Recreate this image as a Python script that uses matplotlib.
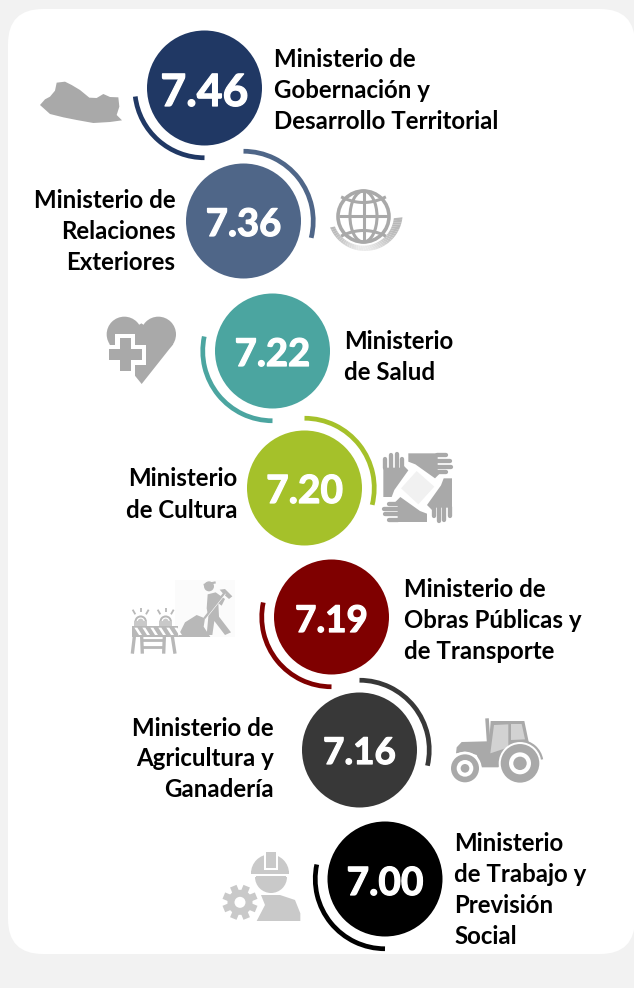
#
# Ranking of ministries, circles with the score and a small grey icon next to each one
#

import numpy as np
from matplotlib import patheffects
from matplotlib import pyplot as plt
from matplotlib.patches import Arc, Circle, Ellipse, FancyBboxPatch, Polygon, Rectangle, Wedge

# Data
scores = ["7.46", "7.36", "7.22", "7.20", "7.19", "7.16", "7.00"]
ministries = [
	["Ministerio de", "Gobernación y", "Desarrollo Territorial"],
	["Ministerio de", "Relaciones", "Exteriores"],
	["Ministerio", "de Salud"],
	["Ministerio", "de Cultura"],
	["Ministerio de", "Obras Públicas y", "de Transporte"],
	["Ministerio de", "Agricultura y", "Ganadería"],
	["Ministerio", "de Trabajo y", "Previsión", "Social"],
]

# Layout in pixels
centers = [(204.5, 88), (243.5, 221), (272.5, 351), (304.5, 488), (331.5, 617), (359.5, 750), (385, 879)]
colors = ["#203864", "#4f6688", "#4ba5a0", "#a5c12a", "#7f0000", "#383838", "#000000"]
arc_ranges = [(90, 173), (-90, 14), (90, 192), (-90, 14), (90, 192), (-90, 13), (90, 192)]
label_x = [273.5, 175.5, 344, 237.5, 404, 273.5, 454.5]
label_align = ["left", "right", "left", "right", "left", "right", "left"]
label_y = [
	[67, 98, 129],
	[208, 239, 270],
	[349, 380],
	[486, 518],
	[597, 628, 659],
	[736, 766, 797],
	[851, 882, 913, 944],
]
score_size = [32, 27.5, 27.5, 28, 26.5, 26.5, 28]
score_base = [18, 15, 15, 15, 15, 14, 16]

GREY = "#a9a9a9"
STONE = "#b8b8b8"
LIGHT = "#c9c9c9"

fig = plt.figure(figsize=(6.34, 9.88), dpi=100, facecolor="#f2f2f2")
ax = fig.add_axes([0, 0, 1, 1])
ax.set_xlim(0, 634)
ax.set_ylim(988, 0)
ax.axis("off")

# White card
ax.add_patch(FancyBboxPatch((8 + 35, 9 + 35), 627 - 70, 945 - 70, boxstyle="round,pad=35,rounding_size=35",
	facecolor="white", edgecolor="none", zorder=0))


def poly(points, color=GREY, z=2):
	ax.add_patch(Polygon(points, closed=True, facecolor=color, edgecolor="none", zorder=z))


def bar(x0, y0, x1, y1, width, color=GREY, z=3, cap="round"):
	ax.plot([x0, x1], [y0, y1], color=color, lw=width, solid_capstyle=cap, zorder=z)


def zoomed(points, ox, oy):
	return [(ox + p[0] / 3, oy + p[1] / 3) for p in points]


def zbar(p0, p1, ox, oy, width, color=GREY, z=3, cap="butt"):
	a, b = zoomed([p0, p1], ox, oy)
	bar(a[0], a[1], b[0], b[1], width, color, z, cap)


def zcircle(p, r, ox, oy, color=GREY, z=3):
	ax.add_patch(Circle(zoomed([p], ox, oy)[0], r / 3, facecolor=color, edgecolor="none", zorder=z))


# Map of El Salvador
poly(zoomed([(120, 315), (135, 298), (150, 290), (165, 272), (170, 248), (195, 245), (215, 255), (240, 270),
	(268, 293), (290, 294), (310, 282), (330, 291), (355, 292), (358, 320), (350, 345), (366, 361), (330, 366),
	(280, 369), (230, 360), (190, 352), (150, 342)], 0, 0))

# Globe with a swoosh under it
gx, gy = 363.5, 216.5
angles = np.linspace(158, 6, 40)
for a0, a1 in zip(angles[:-1], angles[1:]):
	quad = []
	for a, r, c in ((a0, 113, (195, 130)), (a1, 113, (195, 130)), (a1, 92, (190, 135)), (a0, 92, (190, 135))):
		t = np.deg2rad(a)
		quad.append((c[0] + r * np.cos(t), c[1] + r * np.sin(t)))
	shade = 0.72 + 0.2 * np.sin(np.deg2rad((a0 + a1) / 2)) ** 4
	poly(zoomed(quad, 300, 170), str(shade))
ax.add_patch(Circle((gx, gy), 27, facecolor="white", edgecolor="none", zorder=2))
ax.add_patch(Circle((gx, gy), 25.5, fill=False, edgecolor=GREY, lw=2.6, zorder=3))
ax.add_patch(Ellipse((gx, gy), 27, 51, fill=False, edgecolor=GREY, lw=2.2, zorder=3))
bar(gx, gy - 25, gx, gy + 25, 2.2, cap="butt")
bar(gx - 25, gy, gx + 25, gy, 2.2, cap="butt")
for sign in (-1, 1):
	t = np.linspace(-1, 1, 30)
	ax.plot(gx + 21 * t, gy + sign * (14 + 5 * t ** 2), color=GREY, lw=2.2, zorder=3)

# Heart with a cross
ox, oy = 100, 290
zcircle((73, 133), 53, ox, oy, GREY, 2)
zcircle((175, 133), 53, ox, oy, GREY, 2)
poly(zoomed([(28, 162), (125, 282), (220, 162), (124, 100)], ox, oy))
cx, cy = 100 + 75 / 3, 290 + 194 / 3
ax.add_patch(Rectangle((cx - 21, cy - 10), 42, 20, facecolor="white", edgecolor="none", zorder=3))
ax.add_patch(Rectangle((cx - 10, cy - 21), 20, 42, facecolor="white", edgecolor="none", zorder=3))
ax.add_patch(Rectangle((cx - 16.5, cy - 5.5), 33, 11, facecolor=GREY, edgecolor="none", zorder=4))
ax.add_patch(Rectangle((cx - 5.5, cy - 16.5), 11, 33, facecolor=GREY, edgecolor="none", zorder=4))

# Four hands around a light square, the crop starts at 375,445 and 128,128 is the middle
hc = np.array(zoomed([(128, 128)], 375, 445)[0])
poly(zoomed([(125, 78), (178, 125), (130, 178), (78, 130)], 375, 445), "#f1f1f1", 2)
palm = [(25, 68), (82, 68), (84, 60), (100, 76), (58, 135), (50, 156), (25, 156)]
fingers = [((31, 70), (31, 42)), ((48, 70), (48, 30)), ((65, 70), (65, 27)), ((80, 70), (80, 42))]
for quarter in range(4):
	a = np.pi / 2 * quarter
	rot = np.array([[np.cos(a), -np.sin(a)], [np.sin(a), np.cos(a)]])

	def place(p):
		return hc + rot @ (np.array(p, dtype=float) - 128) / 3

	poly([place(p) for p in palm])
	for f0, f1 in fingers:
		p0, p1 = place(f0), place(f1)
		bar(p0[0], p0[1], p1[0], p1[1], 3.1, GREY, 2)

# Road works, barrier and man with a shovel
ox, oy = 125, 575
ax.add_patch(Rectangle(*zoomed([(150, 15)], ox, oy), 60, 57, facecolor="#fbfbfb", edgecolor="none", zorder=1))
for lx in (47, 122):
	ax.add_patch(Wedge(zoomed([(lx, 140)], ox, oy)[0], 6.2, 180, 360, width=2, facecolor=STONE, edgecolor="none", zorder=2))
	zcircle((lx, 140), 9, ox, oy, LIGHT, 2)
	poly(zoomed([(lx - 19, 138), (lx + 19, 138), (lx + 19, 152), (lx - 19, 152)], ox, oy), LIGHT)
	for dx0, dy0, dx1, dy1 in ((-16, 118, -24, 104), (0, 112, 0, 98), (16, 118, 24, 104)):
		zbar((lx + dx0, dy0), (lx + dx1, dy1), ox, oy, 1.3, STONE, 2)
for lx0, lx1 in ((28, 22), (50, 52), (118, 116), (142, 150)):
	zbar((lx0, 185), (lx1, 236), ox, oy, 2.4, STONE, 2)
zbar((50, 196), (118, 196), ox, oy, 2, STONE, 2)
zbar((50, 216), (118, 216), ox, oy, 2, STONE, 2)
poly(zoomed([(20, 152), (160, 152), (160, 186), (20, 186)], ox, oy), STONE, 3)
for sx in range(28, 150, 24):
	poly(zoomed([(sx, 158), (sx + 9, 158), (sx + 23, 180), (sx + 14, 180)], ox, oy), "white", 4)
poly(zoomed([(158, 186), (180, 142), (215, 120), (240, 130), (236, 155), (256, 186)], ox, oy), STONE)
zcircle((252, 34), 15, ox, oy, STONE)
zbar((236, 30), (272, 22), ox, oy, 1.6, STONE)
poly(zoomed([(248, 58), (272, 52), (300, 72), (290, 92), (280, 85), (282, 125), (318, 172), (300, 180), (268, 138),
	(262, 180), (245, 180), (250, 125), (245, 100)], ox, oy), STONE)
zbar((300, 55), (240, 130), ox, oy, 1.6, "white", 4)
zbar((300, 52), (238, 130), ox, oy, 1.6, STONE, 4)
poly(zoomed([(284, 44), (300, 42), (322, 64), (312, 72), (296, 58)], ox, oy), STONE)

# Tractor
ox, oy = 445, 710
poly(zoomed([(137, 33), (238, 33), (252, 100), (130, 125)], ox, oy))
poly(zoomed([(147, 45), (190, 43), (190, 112), (136, 130)], ox, oy), "#d2d2d2", 3)
poly(zoomed([(198, 42), (230, 42), (240, 88), (198, 90)], ox, oy), "#d2d2d2", 3)
zbar((126, 25), (131, 98), ox, oy, 2.6)
poly(zoomed([(35, 112), (50, 96), (125, 94), (190, 120), (160, 172), (110, 172), (95, 135), (60, 125), (33, 130)], ox, oy))
rear = zoomed([(225, 160)], ox, oy)[0]
ax.add_patch(Wedge(rear, 23.5, 195, 350, facecolor=GREY, edgecolor="none", zorder=2))
ax.add_patch(Circle(rear, 21.3, facecolor="white", edgecolor="none", zorder=3))
ax.add_patch(Circle(rear, 19.3, facecolor=GREY, edgecolor="none", zorder=4))
ax.add_patch(Circle(rear, 11, facecolor="white", edgecolor="none", zorder=5))
ax.add_patch(Circle(rear, 6.7, facecolor=GREY, edgecolor="none", zorder=6))
zcircle((60, 175), 50, ox, oy, "white", 3)
zcircle((60, 175), 42, ox, oy, GREY, 4)
zcircle((60, 175), 25, ox, oy, "white", 5)
zcircle((60, 175), 13, ox, oy, GREY, 6)

# Worker with a helmet and a gear
ox, oy = 215, 845
ax.add_patch(Wedge(zoomed([(165, 85)], ox, oy)[0], 19, 180, 360, facecolor=LIGHT, edgecolor="none", zorder=2))
poly(zoomed([(108, 78), (222, 78), (222, 88), (108, 88)], ox, oy), LIGHT, 2)
poly(zoomed([(146, 22), (190, 22), (190, 74), (146, 74)], ox, oy), "white", 3)
poly(zoomed([(153, 22), (183, 22), (183, 68), (153, 68)], ox, oy), LIGHT, 4)
ax.add_patch(Wedge(zoomed([(168, 96)], ox, oy)[0], 16, 0, 180, facecolor=LIGHT, edgecolor="none", zorder=2))
poly(zoomed([(122, 92), (214, 92), (214, 100), (122, 100)], ox, oy), LIGHT, 2)
poly(zoomed([(138, 150), (195, 150), (240, 165), (256, 205), (256, 228), (125, 228), (150, 180)], ox, oy), LIGHT)
gear = zoomed([(75, 172)], ox, oy)[0]
for t in np.deg2rad(np.arange(0, 360, 45) + 22.5):
	bar(gear[0] + 9 * np.cos(t), gear[1] + 9 * np.sin(t), gear[0] + 19.5 * np.cos(t), gear[1] + 19.5 * np.sin(t), 7, "white", 3, "butt")
	bar(gear[0] + 9 * np.cos(t), gear[1] + 9 * np.sin(t), gear[0] + 17.5 * np.cos(t), gear[1] + 17.5 * np.sin(t), 5, LIGHT, 4, "butt")
ax.add_patch(Circle(gear, 14.5, facecolor="white", edgecolor="none", zorder=3))
ax.add_patch(Circle(gear, 12.5, facecolor=LIGHT, edgecolor="none", zorder=4))
ax.add_patch(Circle(gear, 5.5, facecolor="white", edgecolor="none", zorder=5))

# Circles, arcs, scores and names
for i, score in enumerate(scores):
	x, y = centers[i]
	ax.add_patch(Circle((x, y), 57.5, facecolor=colors[i], edgecolor="none", zorder=6))
	ax.add_patch(Arc((x, y), 139.5, 139.5, theta1=arc_ranges[i][0], theta2=arc_ranges[i][1],
		edgecolor=colors[i], lw=3.4, zorder=6))
	ax.text(x, y + score_base[i], score, color="white", fontsize=score_size[i], fontfamily="Lato", fontweight="bold",
		ha="center", va="baseline", zorder=7,
		path_effects=[patheffects.withStroke(linewidth=0.9, foreground="white")])
	for line, line_y in zip(ministries[i], label_y[i]):
		ax.text(label_x[i], line_y, line, color="black", fontsize=17.25, fontfamily="Lato", fontweight="bold",
			ha=label_align[i], va="baseline", zorder=7)

fig.savefig("out.png", dpi=100, facecolor=fig.get_facecolor())
